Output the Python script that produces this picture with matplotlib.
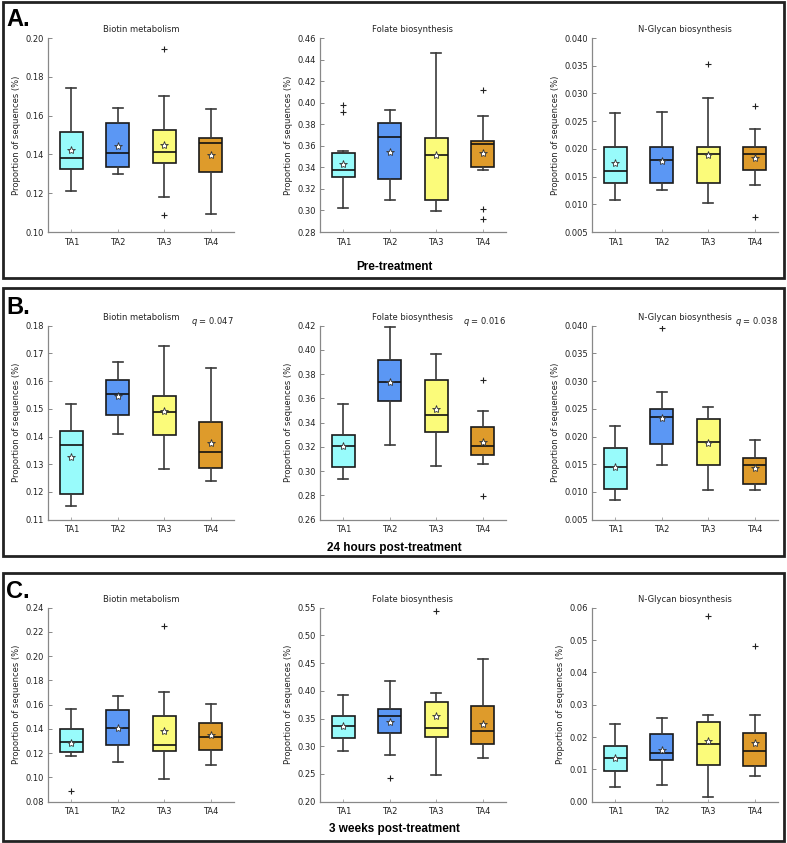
import matplotlib
matplotlib.use('Agg')
import matplotlib.pyplot as plt
from matplotlib.patches import Rectangle
from matplotlib.ticker import MultipleLocator, FormatStrFormatter

groups = ['TA1', 'TA2', 'TA3', 'TA4']
pathways = ['Biotin metabolism', 'Folate biosynthesis', 'N-Glycan biosynthesis']
panel_letters = ['A.', 'B.', 'C.']
panel_titles = ['Pre-treatment', '24 hours post-treatment', '3 weeks post-treatment']
box_colors = ['#98fbfb', '#5b97f4', '#fbfb7a', '#de9b2b']

# Each row: [whisker low, Q1, median, Q3, whisker high, mean]
pre_biotin = [[0.1212, 0.1324, 0.1384, 0.1515, 0.1740, 0.1423],
              [0.1298, 0.1336, 0.1406, 0.1563, 0.1640, 0.1443],
              [0.1180, 0.1356, 0.1411, 0.1527, 0.1702, 0.1450],
              [0.1094, 0.1308, 0.1457, 0.1485, 0.1634, 0.1397]]
pre_biotin_fliers = [[], [], [0.1943, 0.1089], []]

pre_folate = [[0.3022, 0.3308, 0.3373, 0.3530, 0.3552, 0.3435],
              [0.3093, 0.3296, 0.3681, 0.3811, 0.3931, 0.3546],
              [0.2994, 0.3093, 0.3512, 0.3675, 0.4464, 0.3510],
              [0.3373, 0.3407, 0.3617, 0.3648, 0.3873, 0.3530]]
pre_folate_fliers = [[0.3980, 0.3913], [], [], [0.4113, 0.3012, 0.2917]]

pre_glycan = [[0.0107, 0.0138, 0.0160, 0.0204, 0.0264, 0.0174],
              [0.0126, 0.0138, 0.0179, 0.0204, 0.0266, 0.0178],
              [0.0103, 0.0139, 0.0190, 0.0204, 0.0292, 0.0189],
              [0.0134, 0.0161, 0.0190, 0.0204, 0.0236, 0.0184]]
pre_glycan_fliers = [[], [], [0.0353], [0.0278, 0.0077]]

h24_biotin = [[0.1151, 0.1192, 0.1371, 0.1420, 0.1516, 0.1327],
              [0.1411, 0.1478, 0.1554, 0.1604, 0.1669, 0.1546],
              [0.1282, 0.1407, 0.1487, 0.1546, 0.1727, 0.1493],
              [0.1239, 0.1288, 0.1346, 0.1453, 0.1647, 0.1378]]
h24_biotin_fliers = [[], [], [], []]

h24_folate = [[0.2933, 0.3033, 0.3209, 0.3302, 0.3558, 0.3210],
              [0.3214, 0.3581, 0.3737, 0.3916, 0.4186, 0.3737],
              [0.3043, 0.3321, 0.3465, 0.3751, 0.3969, 0.3509],
              [0.3063, 0.3137, 0.3209, 0.3366, 0.3495, 0.3244]]
h24_folate_fliers = [[], [], [], [0.3754, 0.2793]]

h24_glycan = [[0.0086, 0.0106, 0.0145, 0.0179, 0.0219, 0.0145],
              [0.0148, 0.0186, 0.0236, 0.0249, 0.0281, 0.0233],
              [0.0104, 0.0148, 0.0191, 0.0231, 0.0253, 0.0188],
              [0.0103, 0.0114, 0.0149, 0.0161, 0.0194, 0.0144]]
h24_glycan_fliers = [[], [0.0396], [], []]

w3_biotin = [[0.1179, 0.1207, 0.1295, 0.1397, 0.1564, 0.1284],
             [0.1130, 0.1265, 0.1405, 0.1560, 0.1674, 0.1405],
             [0.0984, 0.1218, 0.1267, 0.1509, 0.1707, 0.1386],
             [0.1102, 0.1226, 0.1333, 0.1452, 0.1608, 0.1353]]
w3_biotin_fliers = [[0.0891], [], [0.2249], []]

w3_folate = [[0.2908, 0.3155, 0.3371, 0.3540, 0.3931, 0.3370],
             [0.2840, 0.3245, 0.3552, 0.3666, 0.4171, 0.3437],
             [0.2475, 0.3161, 0.3329, 0.3804, 0.3967, 0.3540],
             [0.2794, 0.3035, 0.3269, 0.3732, 0.4568, 0.3407]]
w3_folate_fliers = [[], [0.2427], [0.5446], []]

w3_glycan = [[0.0046, 0.0094, 0.0136, 0.0171, 0.0240, 0.0136],
             [0.0051, 0.0128, 0.0152, 0.0208, 0.0260, 0.0160],
             [0.0015, 0.0115, 0.0177, 0.0245, 0.0269, 0.0188],
             [0.0080, 0.0111, 0.0157, 0.0211, 0.0267, 0.0183]]
w3_glycan_fliers = [[], [], [0.0573], [0.0482]]

q_values = [[None, None, None], ['0.047', '0.016', '0.038'], [None, None, None]]

ylims = [[(0.10, 0.20, 0.02), (0.28, 0.46, 0.02), (0.005, 0.040, 0.005)],
         [(0.11, 0.18, 0.01), (0.26, 0.42, 0.02), (0.005, 0.040, 0.005)],
         [(0.08, 0.24, 0.02), (0.20, 0.55, 0.05), (0.00, 0.06, 0.01)]]
yfmts = [['%.2f', '%.2f', '%.3f'], ['%.2f', '%.2f', '%.3f'], ['%.2f', '%.2f', '%.2f']]

all_stats = [[pre_biotin, pre_folate, pre_glycan],
             [h24_biotin, h24_folate, h24_glycan],
             [w3_biotin, w3_folate, w3_glycan]]
all_fliers = [[pre_biotin_fliers, pre_folate_fliers, pre_glycan_fliers],
              [h24_biotin_fliers, h24_folate_fliers, h24_glycan_fliers],
              [w3_biotin_fliers, w3_folate_fliers, w3_glycan_fliers]]

W, H = 787, 843
fig = plt.figure(figsize=(W / 100, H / 100), dpi=100)
plt.rcParams['font.family'] = ['DejaVu Sans']

row_axes_top = [38, 325.7, 607.7]
col_axes_left = [48, 320, 592]
ax_w, ax_h = 186, 194
frames = [(2, 278), (288, 556), (573, 841)]
letter_y = [8, 296, 580]
label_y = [267, 548, 829]

for r in range(3):
    y0, y1 = frames[r]
    fig.add_artist(Rectangle((3 / W, 1 - y1 / H), 781 / W, (y1 - y0) / H,
                             transform=fig.transFigure, fill=False,
                             edgecolor='#222222', linewidth=2))
    fig.text(6 / W, 1 - letter_y[r] / H, panel_letters[r], fontsize=17,
             fontweight='bold', family='Liberation Sans', va='top', ha='left')
    fig.text(394 / W, 1 - label_y[r] / H, panel_titles[r], fontsize=8.5,
             fontweight='bold', family='Liberation Sans', va='center', ha='center')
    for c in range(3):
        top = row_axes_top[r]
        left = col_axes_left[c]
        ax = fig.add_axes([left / W, 1 - (top + ax_h) / H, ax_w / W, ax_h / H])
        stats = []
        for i, row in enumerate(all_stats[r][c]):
            stats.append(dict(whislo=row[0], q1=row[1], med=row[2], q3=row[3],
                              whishi=row[4], mean=row[5],
                              fliers=all_fliers[r][c][i]))
        bp = ax.bxp(stats, positions=[1, 2, 3, 4], widths=0.5, capwidths=0.22,
                    patch_artist=True, showmeans=True,
                    boxprops=dict(edgecolor='#1a1a1a', linewidth=1.2),
                    whiskerprops=dict(color='#3a3a3a', linewidth=1.2),
                    capprops=dict(color='#3a3a3a', linewidth=1.2),
                    medianprops=dict(color='#111111', linewidth=1.2),
                    meanprops=dict(marker='*', markerfacecolor='white',
                                   markeredgecolor='#333333', markersize=6,
                                   markeredgewidth=0.6),
                    flierprops=dict(marker='+', markeredgecolor='#222222',
                                    markersize=5, markeredgewidth=0.8))
        for patch, col in zip(bp['boxes'], box_colors):
            patch.set_facecolor(col)
        lo, hi, step = ylims[r][c]
        ax.set_ylim(lo, hi)
        ax.set_xlim(0.5, 4.5)
        ax.yaxis.set_major_locator(MultipleLocator(step))
        ax.yaxis.set_major_formatter(FormatStrFormatter(yfmts[r][c]))
        ax.set_xticks([1, 2, 3, 4])
        ax.set_xticklabels(groups)
        for s in ['top', 'right']:
            ax.spines[s].set_visible(False)
        for s in ['left', 'bottom']:
            ax.spines[s].set_color('#888888')
            ax.spines[s].set_linewidth(0.9)
        ax.tick_params(axis='y', direction='in', length=3, width=0.7,
                       color='#888888', labelsize=6, pad=3, labelcolor='#222222')
        ax.tick_params(axis='x', direction='in', length=2.5, width=0.7,
                       color='#aaaaaa', labelsize=6, pad=4, labelcolor='#222222')
        ax.set_ylabel('Proportion of sequences (%)', fontsize=6, labelpad=3,
                      color='#222222')
        ax.set_title(pathways[c], fontsize=6, pad=4, color='#222222')
        q = q_values[r][c]
        if q is not None:
            ax.text(1.0, 1.02, '$q$ = ' + q, transform=ax.transAxes,
                    ha='right', va='center', fontsize=6, color='#222222')

fig.savefig('out.png', dpi=100)
